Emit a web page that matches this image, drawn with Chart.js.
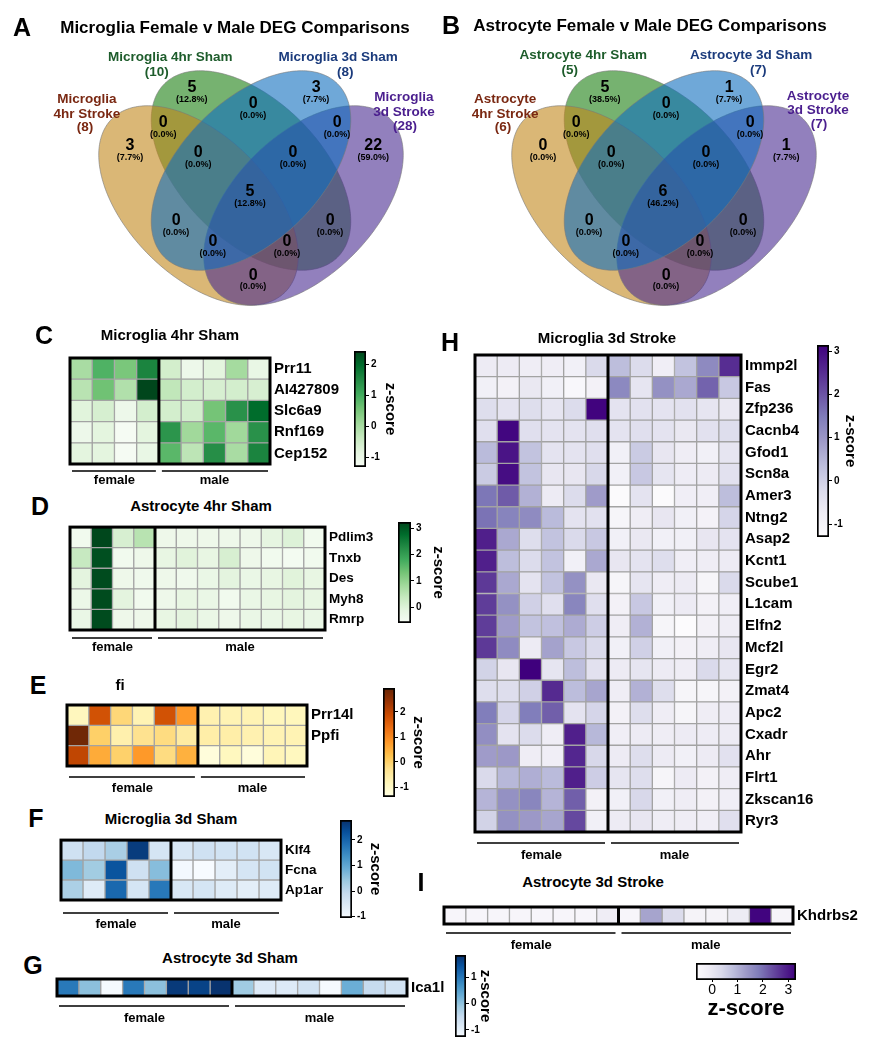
<!DOCTYPE html>
<html><head><meta charset="utf-8">
<script src="https://cdn.jsdelivr.net/npm/chart.js@4.4.1/dist/chart.umd.min.js"></script>
<style>
body{margin:0;background:#fff;}
#stage{position:relative;width:869px;height:1050px;overflow:hidden;background:#fff;font-family:"Liberation Sans",Arial,Helvetica,sans-serif;}
.t{position:absolute;transform:translate(-50%,-50%);white-space:nowrap;font-weight:bold;line-height:1;color:#000;}
canvas{position:absolute;}
</style></head>
<body><div id="stage"></div>
<script>
// ---------------- DATA ----------------
// Venn regions: Y=4hr Stroke, G=4hr Sham, B=3d Sham, P=3d Stroke
const vennRegions = ['Y','G','B','P','YG','GB','BP','YGB','GBP','YGBP','YB','GP','YBP','YGP','YP'];
const regionX = [0.154,0.331,0.686,0.849,0.249,0.506,0.746,0.349,0.620,0.497,0.286,0.726,0.391,0.603,0.506];
const regionY = [0.640,0.806,0.806,0.640,0.706,0.760,0.706,0.620,0.620,0.509,0.426,0.426,0.366,0.366,0.271];
const countsA = [3,5,3,22,0,0,0,0,0,5,0,0,0,0,0];
const pctA = ['7.7%','12.8%','7.7%','59.0%','0.0%','0.0%','0.0%','0.0%','0.0%','12.8%','0.0%','0.0%','0.0%','0.0%','0.0%'];
const countsB = [0,5,1,1,0,0,0,0,0,6,0,0,0,0,0];
const pctB = ['0.0%','38.5%','7.7%','7.7%','0.0%','0.0%','0.0%','0.0%','0.0%','46.2%','0.0%','0.0%','0.0%','0.0%','0.0%'];
const setLabelsA = [['Microglia','4hr Stroke','(8)'],['Microglia 4hr Sham','(10)'],['Microglia 3d Sham','(8)'],['Microglia','3d Stroke','(28)']];
const setLabelsB = [['Astrocyte','4hr Stroke','(6)'],['Astrocyte 4hr Sham','(5)'],['Astrocyte 3d Sham','(7)'],['Astrocyte','3d Stroke','(7)']];
const setPosA = [[[0.031,0.774],[0.031,0.731],[0.026,0.694]],[[0.269,0.894],[0.231,0.851]],[[0.749,0.894],[0.769,0.851]],[[0.937,0.780],[0.937,0.737],[0.940,0.697]]];
const setPosB = [[[0.046,0.774],[0.046,0.731],[0.040,0.694]],[[0.269,0.900],[0.231,0.857]],[[0.749,0.900],[0.769,0.857]],[[0.940,0.783],[0.940,0.743],[0.943,0.703]]];
const ellCx = [0.35,0.5,0.5,0.65], ellCy = [0.47,0.57,0.57,0.47];
const ellA = [0.35,0.35,0.35,0.35], ellB = [0.2,0.2,0.2,0.2], ellRot = [-45,-45,45,45];

const sexLabels = ['female','male'];

const genesC = ['Prr11','AI427809','Slc6a9','Rnf169','Cep152'];
const nFemaleC = 4;
const zC = [
 [0.0, 0.9, 0.5, 1.6, -0.55, -1.05, -0.82, 0.05, -0.95],
 [-0.2, 0.6, -0.1, 2.4, -0.3, -0.56, -0.62, -0.56, -0.62],
 [-0.78, -0.6, -1.05, -0.56, -0.56, -0.56, 0.55, 1.4, 1.95],
 [-1.05, -0.82, -1.25, -0.82, 1.35, 0.1, 0.8, 0.1, 1.4],
 [-0.82, -0.82, -1.25, -0.95, 0.8, -0.25, 1.45, 0.0, 1.6]
];
const rangeC = [-1.3, 2.42], ticksC = [-1,0,1,2];

const genesD = ['Pdlim3','Tnxb','Des','Myh8','Rmrp'];
const nFemaleD = 4;
const zD = [
 [-0.45, 3.2, 0.1, 0.55, -0.35, -0.35, -0.35, -0.35, -0.35, -0.15, 0.0, -0.45],
 [0.35, 3.1, -0.45, -0.35, -0.2, -0.05, -0.2, 0.1, -0.35, -0.45, -0.5, -0.45],
 [-0.1, 3.15, -0.35, -0.4, -0.35, -0.4, -0.25, -0.1, -0.25, -0.2, -0.05, -0.2],
 [-0.3, 3.15, -0.1, -0.45, -0.35, -0.2, -0.25, -0.45, -0.25, -0.2, -0.1, -0.2],
 [-0.25, 3.15, -0.35, -0.35, -0.2, -0.1, -0.25, -0.35, -0.25, -0.25, -0.2, -0.25]
];
const rangeD = [-0.6, 3.23], ticksD = [0,1,2,3];

const genesE = ['Prr14l','Ppfi',''];
const nFemaleE = 6;
const zE = [
 [-0.88, 1.78, -0.1, -0.75, 1.78, 0.78, -0.7, -0.75, -0.75, -0.85, -0.85],
 [2.85, 0.03, -0.66, -0.3, -0.18, -0.53, -0.6, -0.6, -0.7, -0.75, -0.75],
 [2.0, 0.55, 0.0, 0.78, -0.18, 0.47, -1.27, -0.9, -1.27, -0.8, -0.9]
];
const rangeE = [-1.4, 2.96], ticksE = [-1,0,1,2];

const genesF = ['Klf4','Fcna','Ap1ar'];
const nFemaleF = 5;
const zF = [
 [-0.28, -0.05, 0.26, 2.6, -0.4, -0.45, -0.28, -0.32, -0.32, -0.45],
 [0.68, 0.34, 2.26, -0.28, 0.6, -0.97, -1.05, -0.66, -0.4, -0.32],
 [0.22, -0.57, 1.95, -0.4, 1.72, -0.45, -0.4, -0.57, -0.66, -0.57]
];
const rangeF = [-1.05, 2.78], ticksF = [-1,0,1,2];

const genesG = ['Ica1l'];
const nFemaleG = 8;
const zG = [[0.98, 0.04, -1.24, 0.98, 0.04, 1.73, 1.63, 1.82, -0.12, -0.86, -0.86, -0.68, -1.24, 0.29, -0.49, -0.68]];
const rangeG = [-1.27, 1.85], ticksG = [-1,0,1];

const genesH = ['Immp2l','Fas','Zfp236','Cacnb4','Gfod1','Scn8a','Amer3','Ntng2','Asap2','Kcnt1','Scube1','L1cam','Elfn2','Mcf2l','Egr2','Zmat4','Apc2','Cxadr','Ahr','Flrt1','Zkscan16','Ryr3'];
const nFemaleH = 6;
const zH = [
 [-0.68,-0.68,-0.74,-0.74,-0.85,-0.19, 0.35,-0.25,-0.8,0.25,1.22,2.5],
 [-0.85,-0.9,-0.6,-0.85,-1.15,-0.9, 1.25,-0.5,1.1,0.7,1.8,0.15],
 [-0.3,-0.45,-0.3,-0.5,-0.25,3.1, -0.45,-0.4,-0.45,-0.4,-0.5,-0.6],
 [-0.35,3.05,-0.35,-0.45,-0.45,-0.35, -0.45,-0.35,-0.45,-0.6,-0.4,-0.3],
 [0.4,2.85,0.25,-0.45,-0.45,-0.35, -0.85,0.1,-0.55,-0.74,-0.85,-0.5],
 [0.1,2.95,0.25,-0.55,-0.55,-0.15, -0.85,0.15,-0.5,-0.72,-0.68,-0.4],
 [1.55,1.9,0.55,-0.68,-0.25,0.9, -1.25,-0.45,-1.25,-0.8,-0.8,0.35],
 [1.6,1.35,1.2,0.4,-0.45,-0.4, -1.05,-0.75,-0.55,-0.85,-0.95,-0.1],
 [2.7,0.7,-0.3,0.25,-0.2,0.15, -0.85,-0.6,-0.85,-0.85,-0.55,-0.45],
 [2.7,0.35,-0.25,0.25,-0.85,0.7, -0.55,-0.45,-0.3,-0.8,-0.74,-0.68],
 [2.35,0.7,-0.45,0.25,1.1,-0.6, -1.05,-0.5,-0.74,-0.68,-1.05,-0.2],
 [2.3,1.1,0.0,-0.35,1.3,-0.35, -0.9,0.15,-0.85,-0.68,-0.9,-0.8],
 [2.3,0.9,0.25,0.3,0.65,0.05, -0.74,0.55,-1.05,-1.3,-0.9,-0.74],
 [2.35,1.2,-0.68,0.8,0.15,-0.2, -0.85,0.0,-0.85,-0.9,-0.74,-0.55],
 [-0.05,-0.55,3.15,-0.5,0.35,-0.4, -0.68,-0.5,-0.68,-0.74,-0.2,-0.5],
 [-0.3,-0.3,0.0,2.55,0.37,0.75, -0.74,0.55,-0.3,-1.05,-1.05,-0.9],
 [1.45,-0.1,1.45,1.85,-0.45,-0.1, -0.9,-0.3,-0.74,-1.05,-0.74,-0.72],
 [1.15,-0.45,-0.25,-0.75,2.7,0.45, -0.8,-0.68,-0.74,-0.68,-0.72,-0.68],
 [0.9,0.95,-0.75,-0.8,2.6,-0.15, -0.68,-0.3,-0.68,-0.85,-0.68,-0.4],
 [-0.2,0.45,0.6,0.4,2.7,0.05, -0.5,-0.3,-1.05,-0.68,-0.9,-0.74],
 [0.5,1.1,1.3,0.5,1.85,-0.9, -0.85,-0.15,-0.85,-0.74,-0.9,-0.8],
 [-0.05,1.1,0.95,0.75,2.15,-0.85, -0.68,-0.55,-0.74,-0.74,-0.8,-0.35]
];
const rangeH = [-1.3, 3.14], ticksH = [-1,0,1,2,3];

const genesI = ['Khdrbs2'];
const nFemaleI = 8;
const zI = [[-0.43,-0.43,-0.43,-0.43,-0.43,-0.43,-0.43,-0.15, -0.43,1.2,0.3,-0.35,-0.35,-0.1,3.25,-0.4]];
const rangeI = [-0.63, 3.3], ticksI = [0,1,2,3];

// ---------------- STYLE ----------------
const FONT = '"Liberation Sans", Arial, Helvetica, sans-serif';
Chart.defaults.font.family = FONT;
Chart.defaults.color = '#000';
const CMAP = {
 greens: ['#f7fcf5','#e5f5e0','#c7e9c0','#a1d99b','#74c476','#41ab5d','#238b45','#006d2c','#00441b'],
 blues: ['#f7fbff','#deebf7','#c6dbef','#9ecae1','#6baed6','#4292c6','#2171b5','#08519c','#08306b'],
 purples: ['#fcfbfd','#efedf5','#dadaeb','#bcbddc','#9e9ac8','#807dba','#6a51a3','#54278f','#3f007d'],
 ylorbr: ['#ffffe5','#fff7bc','#fee391','#fec44f','#fe9929','#ec7014','#cc4c02','#993404','#662506']
};
const ellFill = ['rgba(193,135,27,0.6)','rgba(27,127,17,0.6)','rgba(15,110,190,0.6)','rgba(73,43,145,0.6)'];
const ellOrder = [1,0,3,2];
const setColors = ['#7a2812','#1d5c2b','#1b3b7c','#4a1e8e'];

const stage = document.getElementById('stage');
function hex(h){return [parseInt(h.slice(1,3),16),parseInt(h.slice(3,5),16),parseInt(h.slice(5,7),16)];}
function cmapColor(stops, f){
  f = Math.max(0, Math.min(1, f));
  const n = stops.length-1, p = f*n, i = Math.min(Math.floor(p), n-1), t = p-i;
  const a = hex(stops[i]), b = hex(stops[i+1]);
  return 'rgb('+[0,1,2].map(k=>Math.round(a[k]+(b[k]-a[k])*t)).join(',')+')';
}
function addCanvas(x,y,w,h){
  const c = document.createElement('canvas');
  c.width=w; c.height=h;
  c.style.left=x+'px'; c.style.top=y+'px'; c.style.width=w+'px'; c.style.height=h+'px';
  stage.appendChild(c); return c;
}
function addText(txt,cx,cy,size,color){
  const d=document.createElement('div'); d.className='t'; d.textContent=txt;
  d.style.left=cx+'px'; d.style.top=cy+'px'; d.style.fontSize=size+'px'; if(color) d.style.color=color;
  stage.appendChild(d);
}

// ---------------- VENN ----------------
function makeVenn(left, counts, pcts, setLabels, setPos){
  const W=456, H=300, padL=76, padT=15, padB=5, padR=W-76-350;
  const cv = addCanvas(left, 40, W, H);
  const plug = {
    id:'venn',
    beforeDatasetsDraw(chart){
      const {ctx, scales:{x,y}} = chart;
      ctx.save();
      for(const i of ellOrder){
        const r = ellRot[i]*Math.PI/180;
        ctx.beginPath();
        for(let k=0;k<=240;k++){
          const t=k/240*2*Math.PI, ex=ellA[i]*Math.cos(t), ey=ellB[i]*Math.sin(t);
          const dx=ellCx[i]+ex*Math.cos(r)-ey*Math.sin(r), dy=ellCy[i]+ex*Math.sin(r)+ey*Math.cos(r);
          const px=x.getPixelForValue(dx), py=y.getPixelForValue(dy);
          if(k) ctx.lineTo(px,py); else ctx.moveTo(px,py);
        }
        ctx.closePath(); ctx.fillStyle=ellFill[i]; ctx.fill();
        ctx.strokeStyle='rgba(120,120,120,0.6)'; ctx.lineWidth=1; ctx.stroke();
      }
      ctx.restore();
    },
    afterDatasetsDraw(chart){
      const {ctx, scales:{x,y}} = chart;
      const meta = chart.getDatasetMeta(0);
      ctx.save(); ctx.textAlign='center'; ctx.textBaseline='middle'; ctx.fillStyle='#000';
      meta.data.forEach((pt,i)=>{
        ctx.font='bold 16px '+FONT; ctx.fillText(String(counts[i]), pt.x, pt.y);
        ctx.font='bold 9px '+FONT; ctx.fillText('('+pcts[i]+')', pt.x, pt.y+11.5);
      });
      setLabels.forEach((lines,s)=>{
        ctx.fillStyle=setColors[s]; ctx.font='bold 13.5px '+FONT;
        lines.forEach((ln,j)=>{ const p=setPos[s][j]; ctx.fillText(ln, x.getPixelForValue(p[0]), y.getPixelForValue(p[1])); });
      });
      ctx.restore();
    }
  };
  new Chart(cv,{type:'scatter',
    data:{datasets:[{data:regionX.map((v,i)=>({x:v,y:regionY[i]})), pointRadius:0}]},
    options:{responsive:false, animation:false, devicePixelRatio:1,
      layout:{padding:{left:padL,right:padR,top:padT,bottom:padB}},
      scales:{x:{type:'linear',min:0,max:1,display:false}, y:{type:'linear',min:0.1,max:0.9,display:false}},
      plugins:{legend:{display:false},tooltip:{enabled:false}}},
    plugins:[plug]});
}

// ---------------- HEATMAP ----------------
function makeHeatmap(o){
  const {box, genes, z, nF, cmap, range, fontSize, ulOff, labOff} = o;
  const nC = z[0].length;
  const padL=10, padT=6, padB=labOff+12, axisW=95;
  const W=padL+box.w+axisW, H=padT+box.h+padB;
  const cv = addCanvas(box.x-padL, box.y-padT, W, H);
  const datasets=[];
  for(let c=0;c<nC;c++){
    datasets.push({data:genes.map(()=>[c,c+1]),
      backgroundColor:genes.map((g,r)=>cmapColor(CMAP[cmap],(z[r][c]-range[0])/(range[1]-range[0]))),
      borderColor:'#a3a3a3', borderWidth:1, borderSkipped:false,
      barPercentage:1, categoryPercentage:1, grouped:false});
  }
  const plug={id:'frame', afterDatasetsDraw(chart){
    const {ctx, chartArea:a, scales:{x}} = chart;
    ctx.save(); ctx.strokeStyle='#000'; ctx.lineWidth=3;
    ctx.strokeRect(a.left,a.top,a.right-a.left,a.bottom-a.top);
    const sx=x.getPixelForValue(nF);
    ctx.beginPath(); ctx.moveTo(sx,a.top); ctx.lineTo(sx,a.bottom); ctx.stroke();
    const x0=x.getPixelForValue(0), x1=x.getPixelForValue(nC);
    ctx.lineWidth=1.5; const uy=a.bottom+ulOff;
    ctx.beginPath(); ctx.moveTo(x0+2,uy); ctx.lineTo(sx-3,uy); ctx.moveTo(sx+3,uy); ctx.lineTo(x1-2,uy); ctx.stroke();
    ctx.fillStyle='#000'; ctx.font='bold 13px '+FONT; ctx.textAlign='center'; ctx.textBaseline='middle';
    ctx.fillText(sexLabels[0],(x0+sx)/2,a.bottom+labOff);
    ctx.fillText(sexLabels[1],(sx+x1)/2,a.bottom+labOff);
    ctx.restore();
  }};
  new Chart(cv,{type:'bar', data:{labels:genes, datasets},
    options:{indexAxis:'y', responsive:false, animation:false, devicePixelRatio:1,
      layout:{padding:{left:padL,top:padT,right:0,bottom:padB}},
      plugins:{legend:{display:false},tooltip:{enabled:false}},
      scales:{
        x:{type:'linear',min:0,max:nC,display:false},
        y:{position:'right', grid:{display:false,drawTicks:false}, border:{display:false},
           ticks:{color:'#000',font:{size:fontSize,weight:'bold'},padding:4,autoSkip:false},
           afterFit:s=>{s.width=axisW;}}
      }},
    plugins:[plug]});
}

// ---------------- COLORBARS ----------------
function gradFill(cmap, range, horiz){
  return (ctx)=>{
    const ch=ctx.chart; if(!ch.chartArea) return CMAP[cmap][0];
    const s = horiz? ch.scales.x : ch.scales.y;
    const p0=s.getPixelForValue(range[0]), p1=s.getPixelForValue(range[1]);
    const g = horiz? ch.ctx.createLinearGradient(p0,0,p1,0) : ch.ctx.createLinearGradient(0,p0,0,p1);
    CMAP[cmap].forEach((c,i,arr)=>g.addColorStop(i/(arr.length-1),c));
    return g;
  };
}
function makeColorbar(o){
  const {box, cmap, range, ticks, titleDx} = o;
  const padL=4, padT=8, padB=8, axW=50;
  const W=padL+box.w+axW, H=padT+box.h+padB;
  const cv=addCanvas(box.x-padL, box.y-padT, W, H);
  const plug={id:'cbt', afterDraw(chart){
    const {ctx, chartArea:a}=chart;
    ctx.save(); ctx.translate(a.right+titleDx,(a.top+a.bottom)/2); ctx.rotate(Math.PI/2);
    ctx.font='bold 15px '+FONT; ctx.fillStyle='#000'; ctx.textAlign='center'; ctx.textBaseline='middle';
    ctx.fillText('z-score',0,0); ctx.restore();
  }};
  new Chart(cv,{type:'bar', data:{labels:['z'], datasets:[{data:[[range[0],range[1]]],
      backgroundColor:gradFill(cmap,range,false), borderColor:'#000', borderWidth:2, borderSkipped:false,
      barPercentage:1, categoryPercentage:1}]},
    options:{responsive:false, animation:false, devicePixelRatio:1,
      layout:{padding:{left:padL,top:padT,bottom:padB,right:0}},
      plugins:{legend:{display:false},tooltip:{enabled:false}},
      scales:{x:{display:false},
        y:{position:'right',min:range[0],max:range[1],
           afterBuildTicks:s=>{s.ticks=ticks.map(v=>({value:v}));},
           grid:{drawOnChartArea:false,tickLength:3,color:'#000',lineWidth:1}, border:{display:false},
           ticks:{color:'#000',font:{size:10,weight:'bold'},padding:2},
           afterFit:s=>{s.width=axW;}}}},
    plugins:[plug]});
}
function makeColorbarH(o){
  const {box, cmap, range, ticks} = o;
  const padL=12, padT=4, axH=52;
  const W=padL*2+box.w, H=padT+box.h+axH;
  const cv=addCanvas(box.x-padL, box.y-padT, W, H);
  const plug={id:'cbh', afterDraw(chart){
    const {ctx, chartArea:a}=chart;
    ctx.save(); ctx.font='bold 22px '+FONT; ctx.fillStyle='#000'; ctx.textAlign='center'; ctx.textBaseline='middle';
    ctx.fillText('z-score',(a.left+a.right)/2,a.bottom+29); ctx.restore();
  }};
  new Chart(cv,{type:'bar', data:{labels:['z'], datasets:[{data:[[range[0],range[1]]],
      backgroundColor:gradFill(cmap,range,true), borderColor:'#000', borderWidth:2, borderSkipped:false,
      barPercentage:1, categoryPercentage:1}]},
    options:{indexAxis:'y', responsive:false, animation:false, devicePixelRatio:1,
      layout:{padding:{left:padL,right:padL,top:padT,bottom:0}},
      plugins:{legend:{display:false},tooltip:{enabled:false}},
      scales:{y:{display:false},
        x:{position:'bottom',min:range[0],max:range[1],
           afterBuildTicks:s=>{s.ticks=ticks.map(v=>({value:v}));},
           grid:{drawOnChartArea:false,tickLength:2,color:'#000'}, border:{display:false},
           ticks:{color:'#000',font:{size:14},padding:0},
           afterFit:s=>{s.height=axH;}}}},
    plugins:[plug]});
}

// ---------------- BUILD ----------------
makeVenn(0, countsA, pctA, setLabelsA, setPosA);
makeVenn(413, countsB, pctB, setLabelsB, setPosB);

makeHeatmap({box:{x:70,y:351,w:200,h:113}, genes:genesC, z:zC, nF:nFemaleC, cmap:'greens', range:rangeC, fontSize:15, ulOff:7, labOff:16});
makeHeatmap({box:{x:70,y:521,w:255,h:109}, genes:genesD, z:zD, nF:nFemaleD, cmap:'greens', range:rangeD, fontSize:13.5, ulOff:8, labOff:17});
makeHeatmap({box:{x:67,y:698,w:240,h:68}, genes:genesE, z:zE, nF:nFemaleE, cmap:'ylorbr', range:rangeE, fontSize:15, ulOff:11, labOff:22});
makeHeatmap({box:{x:61,y:834,w:220,h:66}, genes:genesF, z:zF, nF:nFemaleF, cmap:'blues', range:rangeF, fontSize:13.5, ulOff:13, labOff:24});
makeHeatmap({box:{x:57,y:972,w:350,h:24}, genes:genesG, z:zG, nF:nFemaleG, cmap:'blues', range:rangeG, fontSize:15, ulOff:10, labOff:22});
makeHeatmap({box:{x:475,y:348,w:266,h:484}, genes:genesH, z:zH, nF:nFemaleH, cmap:'purples', range:rangeH, fontSize:15, ulOff:11, labOff:23});
makeHeatmap({box:{x:444,y:900,w:349,h:24}, genes:genesI, z:zI, nF:nFemaleI, cmap:'purples', range:rangeI, fontSize:15, ulOff:9, labOff:21});

makeColorbar({box:{x:354,y:351,w:12,h:116}, cmap:'greens', range:rangeC, ticks:ticksC, titleDx:24});
makeColorbar({box:{x:398,y:522,w:13,h:101}, cmap:'greens', range:rangeD, ticks:ticksD, titleDx:27});
makeColorbar({box:{x:383,y:688,w:12,h:109}, cmap:'ylorbr', range:rangeE, ticks:ticksE, titleDx:23});
makeColorbar({box:{x:340,y:820,w:12,h:98}, cmap:'blues', range:rangeF, ticks:ticksF, titleDx:23});
makeColorbar({box:{x:455,y:955,w:11,h:82}, cmap:'blues', range:rangeG, ticks:ticksG, titleDx:19});
makeColorbar({box:{x:817,y:345,w:12,h:192}, cmap:'purples', range:rangeH, ticks:ticksH, titleDx:21});
makeColorbarH({box:{x:696,y:963,w:100,h:17}, cmap:'purples', range:rangeI, ticks:ticksI});

const texts = [
 ['A',22,27,25],['Microglia Female v Male DEG Comparisons',235,27,17],
 ['B',451,25,25],['Astrocyte Female v Male DEG Comparisons',650,25,17],
 ['C',44,335,25],['Microglia 4hr Sham',170,334,15],
 ['D',40,506,25],['Astrocyte 4hr Sham',201,505,15],
 ['E',38,685,25],['fi',120,684,15],
 ['F',36,818,25],['Microglia 3d Sham',171,818,15],
 ['G',33,965,25],['Astrocyte 3d Sham',230,957,15],
 ['H',450,342,25],['Microglia 3d Stroke',607,337,15],
 ['I',421,882,25],['Astrocyte 3d Stroke',593,881,15]
];
texts.forEach(t=>addText(t[0],t[1],t[2],t[3]));
</script></body></html>
